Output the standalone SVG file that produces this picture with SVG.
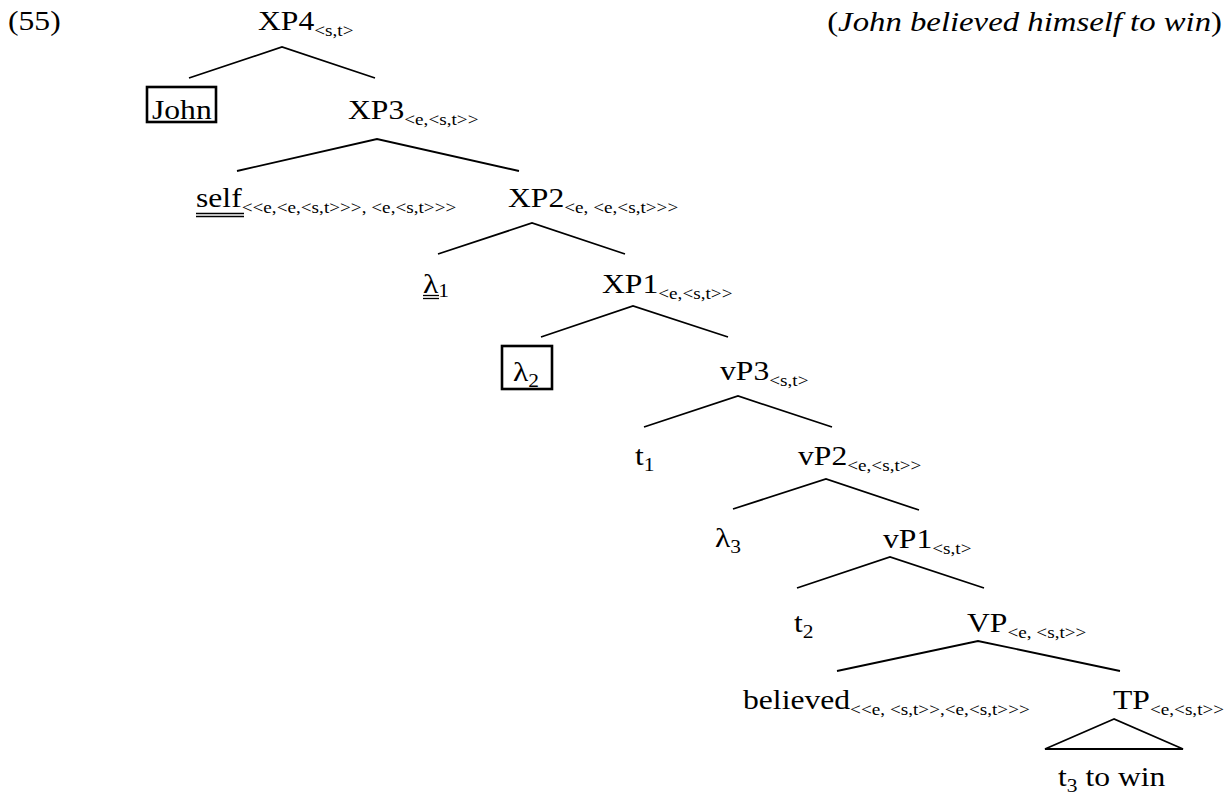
<svg xmlns="http://www.w3.org/2000/svg" width="1229" height="794" viewBox="0 0 1229 794">
  <style>
    text { font-family: "Liberation Serif", "Times New Roman", serif; font-size: 28px; fill: #000; }
    .sub { font-size: 17px; }
    .num { font-size: 19px; }
    .it { font-style: italic; }
    .edge { stroke: #000; stroke-width: 1.8; fill: none; }
    .box { stroke: #000; stroke-width: 2.6; fill: none; }
    .ul { stroke: #000; stroke-width: 1.3; }
  </style>
  <rect width="1229" height="794" fill="#fff"/>

  <!-- example number and gloss -->
  <text transform="translate(8,30) scale(1.13,1)">(55)</text>
  <text transform="translate(1222,31) scale(1.17,1)" text-anchor="end">(<tspan class="it">John believed himself to win</tspan>)</text>

  <!-- branches -->
  <g id="connectors">
    <polyline class="edge" points="189,78 282,47 375,78"/>
    <polyline class="edge" points="237,171 377,139 519,171"/>
    <polyline class="edge" points="438,254 532,223 625,254"/>
    <polyline class="edge" points="541,337 633,306 728,337"/>
    <polyline class="edge" points="644,427 738,396 832,427"/>
    <polyline class="edge" points="733,509 826,479 919,510"/>
    <polyline class="edge" points="797,588 890,557 984,588"/>
    <polyline class="edge" points="837,671 978,641 1120,671"/>
    <polygon class="edge" points="1114,719 1045,749 1183,749"/>
  </g>

  <g id="XP4">
    <text transform="translate(258,30) scale(1.13,1)">XP4<tspan class="sub" dy="6">&lt;s,t&gt;</tspan></text>
  </g>
  <g id="John">
    <rect class="box" x="147" y="87" width="69" height="35"/>
    <text transform="translate(152,119) scale(1.13,1)">John</text>
  </g>
  <g id="XP3">
    <text transform="translate(348,119) scale(1.13,1)">XP3<tspan class="sub" dy="6">&lt;e,&lt;s,t&gt;&gt;</tspan></text>
  </g>
  <g id="self">
    <text transform="translate(196,207) scale(1.13,1)">self<tspan class="sub" dy="6">&lt;&lt;e,&lt;e,&lt;s,t&gt;&gt;&gt;, &lt;e,&lt;s,t&gt;&gt;&gt;</tspan></text>
    <line class="ul" x1="196" y1="213.5" x2="244" y2="213.5"/>
    <line class="ul" x1="196" y1="216.5" x2="244" y2="216.5"/>
  </g>
  <g id="XP2">
    <text transform="translate(508,207) scale(1.13,1)">XP2<tspan class="sub" dy="6">&lt;e, &lt;e,&lt;s,t&gt;&gt;&gt;</tspan></text>
  </g>
  <g id="lambda1">
    <text transform="translate(423,293) scale(1.13,1)">λ<tspan class="num" dy="4">1</tspan></text>
    <line class="ul" x1="423" y1="295.5" x2="439" y2="295.5"/>
    <line class="ul" x1="423" y1="298.5" x2="439" y2="298.5"/>
  </g>
  <g id="XP1">
    <text transform="translate(602,293) scale(1.13,1)">XP1<tspan class="sub" dy="6">&lt;e,&lt;s,t&gt;&gt;</tspan></text>
  </g>
  <g id="lambda2">
    <rect class="box" x="502" y="346" width="50" height="43"/>
    <text transform="translate(513,381) scale(1.13,1)">λ<tspan class="num" dy="6">2</tspan></text>
  </g>
  <g id="vP3">
    <text transform="translate(720,380) scale(1.13,1)">vP3<tspan class="sub" dy="6">&lt;s,t&gt;</tspan></text>
  </g>
  <g id="t1">
    <text transform="translate(635,465) scale(1.13,1)">t<tspan class="num" dy="6">1</tspan></text>
  </g>
  <g id="vP2">
    <text transform="translate(798,465) scale(1.13,1)">vP2<tspan class="sub" dy="6">&lt;e,&lt;s,t&gt;&gt;</tspan></text>
  </g>
  <g id="lambda3">
    <text transform="translate(715,547) scale(1.13,1)">λ<tspan class="num" dy="6">3</tspan></text>
  </g>
  <g id="vP1">
    <text transform="translate(883,548) scale(1.13,1)">vP1<tspan class="sub" dy="6">&lt;s,t&gt;</tspan></text>
  </g>
  <g id="t2">
    <text transform="translate(794,632) scale(1.13,1)">t<tspan class="num" dy="6">2</tspan></text>
  </g>
  <g id="VP">
    <text transform="translate(967,632) scale(1.13,1)">VP<tspan class="sub" dy="6">&lt;e, &lt;s,t&gt;&gt;</tspan></text>
  </g>
  <g id="believed">
    <text transform="translate(743,709) scale(1.13,1)">believed<tspan class="sub" dy="6">&lt;&lt;e, &lt;s,t&gt;&gt;,&lt;e,&lt;s,t&gt;&gt;&gt;</tspan></text>
  </g>
  <g id="TP">
    <text transform="translate(1113,709) scale(1.13,1)">TP<tspan class="sub" dy="6">&lt;e,&lt;s,t&gt;&gt;</tspan></text>
  </g>
  <g id="TP-yield">
    <text transform="translate(1058,786) scale(1.13,1)">t<tspan class="num" dy="6">3</tspan><tspan dy="-6"> to win</tspan></text>
  </g>
</svg>
